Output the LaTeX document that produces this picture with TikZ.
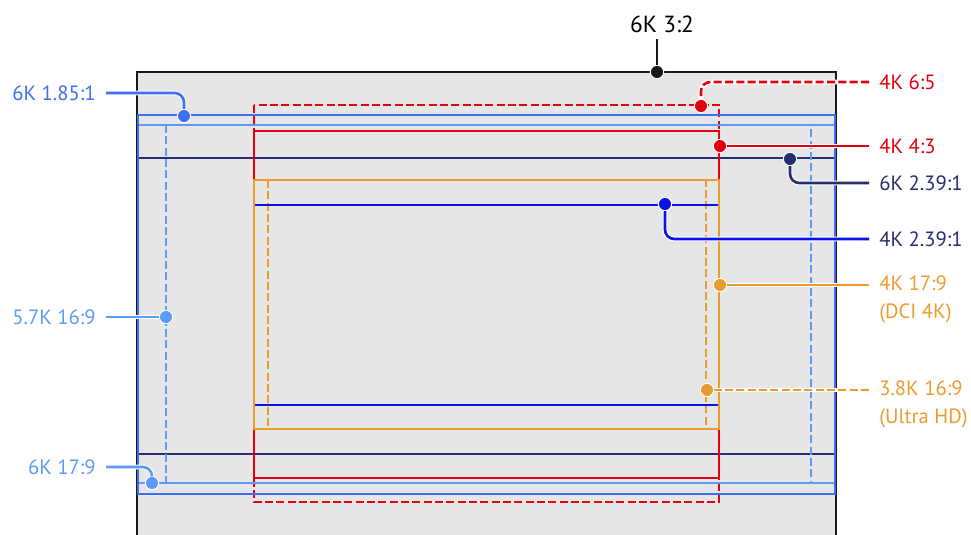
\documentclass[tikz,border=0pt]{standalone}
\usepackage{fontspec}
\setmainfont{PT Sans}
\usepackage{xcolor}
\usepackage{tikz}
\usetikzlibrary{positioning}

\definecolor{bggray}{HTML}{E6E6E6}
\definecolor{fullblue}{HTML}{3F6EF2}
\definecolor{liteblue}{HTML}{5B9BF7}
\definecolor{navy}{HTML}{262E6E}
\definecolor{deepblue}{HTML}{0A12E8}
\definecolor{cropred}{HTML}{E3000F}
\definecolor{croporange}{HTML}{E99C2E}

\begin{document}
\begin{tikzpicture}[
  x=0.75pt, y=-0.75pt,
  every node/.style={font=\fontsize{15.5}{21}\selectfont},
  lbl/.style={inner xsep=7.5pt, inner ysep=0pt, align=left},
  dot/.style={circle, fill=#1, draw=white, line width=0.7pt,
    inner sep=0pt, minimum size=10pt},
  halo/.style={preaction={draw=white, line width=3.6pt}},
  lead/.style={draw=#1, line width=2pt, halo, rounded corners=7pt},
  crop/.style={draw=#1, line width=2.1pt},
  dsh/.style={dash pattern=on 6pt off 2.5pt},
]
  \useasboundingbox (0,0) rectangle (971,535);

  % sensor 6K 3:2
  \fill[bggray] (137,72) rectangle (836,535);
  \draw[line width=2pt, black!90] (137,535) |- (836,72) -- (836,535);

  % crop areas
  \draw[crop=navy, line width=1.8pt] (138,158) -- (835,158) (138,454) -- (835,454);
  \draw[crop=cropred, dsh] (254,105) rectangle (719,502);
  \draw[crop=cropred] (254,131) rectangle (719,478);
  \draw[crop=croporange] (254,180) rectangle (719,429);
  \draw[crop=croporange, dsh] (268,180) rectangle (706,429);
  \draw[crop=deepblue] (255,205) -- (718,205) (255,405) -- (718,405);
  \draw[crop=liteblue] (138,125) rectangle (835,483);
  \draw[crop=liteblue, dsh] (166,125) rectangle (811,483);
  \draw[crop=fullblue] (138,115) rectangle (835,494);

  % markers
  \node[dot=black!90] (d32) at (657,72) {};
  \node[dot=cropred] (d65) at (701,106) {};
  \node[dot=cropred] (d43) at (720,146) {};
  \node[dot=navy] (d6k239) at (790,159) {};
  \node[dot=deepblue] (d4k239) at (665,204) {};
  \node[dot=croporange] (d179) at (720,285) {};
  \node[dot=croporange] (d169) at (707,390) {};
  \node[dot=fullblue] (d185) at (184,116) {};
  \node[dot=liteblue] (d57) at (166,317) {};
  \node[dot=liteblue] (d6k179) at (152,483) {};

  % labels
  \node[lbl, inner ysep=5pt, font=\fontsize{17.5}{21}\selectfont] (l32) at (662,24) {6K 3:2};
  \node[lbl, text=cropred, anchor=west] (l65) at (869,82) {4K 6:5};
  \node[lbl, text=cropred, anchor=west] (l43) at (869,146) {4K 4:3};
  \node[lbl, text=navy, anchor=west] (l6k239) at (869,183) {6K 2.39:1};
  \node[lbl, text=navy, anchor=west] (l4k239) at (869,239) {4K 2.39:1};
  \node[lbl, text=croporange, anchor=west] (l179) at (869,299) {4K 17:9\\(DCI 4K)};
  \node[lbl, text=croporange, anchor=west] (l169) at (869,404) {3.8K 16:9\\(Ultra HD)};
  \node[lbl, text=fullblue, anchor=east] (l185) at (106,93) {6K 1.85:1};
  \node[lbl, text=liteblue, anchor=east] (l57) at (106,317) {5.7K 16:9};
  \node[lbl, text=liteblue, anchor=east] (l6k179) at (106,467) {6K 17:9};

  % leaders
  \draw[lead=black!90] (l32.south -| d32) -- (d32);
  \draw[lead=cropred, dsh] (l65.west) -| (d65);
  \draw[lead=cropred] (l43.west) -- (d43);
  \draw[lead=navy] (l6k239.west) -| (d6k239);
  \draw[lead=deepblue] (l4k239.west) -| (d4k239);
  \draw[lead=croporange] (d179 -| l179.west) -- (d179);
  \draw[lead=croporange, dsh] (d169 -| l169.west) -- (d169);
  \draw[lead=fullblue] (l185.east) -| (d185);
  \draw[lead=liteblue] (l57.east) -- (d57);
  \draw[lead=liteblue] (l6k179.east) -| (d6k179);
\end{tikzpicture}
\end{document}
